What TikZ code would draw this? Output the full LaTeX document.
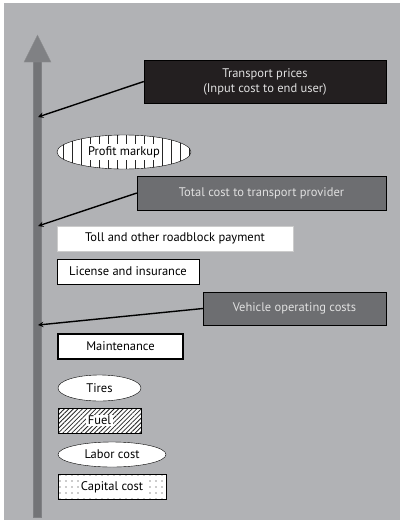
\documentclass[tikz,border=0pt]{standalone}
\usepackage{fontspec}
\setmainfont{PT Sans}
\usepackage{tikz}
\usetikzlibrary{positioning}
\usetikzlibrary{shapes.geometric}
\usetikzlibrary{patterns.meta}

\definecolor{panelgray}{HTML}{B1B2B5}
\definecolor{shaftgray}{HTML}{737477}
\definecolor{headgray}{HTML}{808184}
\definecolor{darkbox}{HTML}{6D6E71}
\definecolor{blackbox}{HTML}{231F20}

\begin{document}
\begin{tikzpicture}
		[x=1pt, y=-1pt,
		 every node/.style={font=\fontsize{12.5}{15}\selectfont},
		 costbox/.style={rectangle, draw=black, fill=white, minimum height=25pt, inner sep=0pt},
		 costoval/.style={ellipse, draw=black, fill=white, minimum height=26pt, inner sep=0pt},
		 patternbox/.style={preaction={fill=white}, pattern color=black!85},
		 levelbox/.style={rectangle, draw=black, fill=darkbox, text=white!88!black, inner sep=0pt},
		 pointer/.style={->, >=stealth, line width=1.4pt, black}]
		\useasboundingbox[fill=white] (0,0) rectangle (402,523);
		\fill[panelgray] (4,3) rectangle (400,520);

		% the rising cost axis
		\filldraw[fill=shaftgray, draw=headgray, line width=1pt] (33.5,57) rectangle (41.5,517);
		\filldraw[fill=headgray, draw=headgray!90!white] (24,62) -- (37.5,35) -- (51,62) -- cycle;
		\coordinate (prices) at (38,117);
		\coordinate (total) at (38,226);
		\coordinate (operating) at (38,325);

		\node[levelbox, fill=blackbox, minimum width=242pt, minimum height=43pt, align=center] (transport) at (265,81.5) {Transport prices\\(Input cost to end user)};
		\node[costoval, patternbox, minimum width=134pt, minimum height=34pt, pattern={Lines[angle=90, distance=9pt, line width=0.6pt]},
			label={[fill=white, inner sep=2pt]center:Profit markup}] (profit) at (124,152) {};
		\node[levelbox, minimum width=249pt, minimum height=34pt] (providers) at (261.5,193) {Total cost to transport provider};
		\node[costbox, draw=white!80!black, minimum width=236pt] (toll) at (175,238.5) {Toll and other roadblock payment};
		\node[costbox, minimum width=142pt] (license) at (128,271.5) {License and insurance};
		\node[levelbox, minimum width=183pt, minimum height=33pt] (vehicle) at (294.5,308.5) {Vehicle operating costs};
		\node[costbox, line width=1.3pt, minimum width=125pt] (maintenance) at (120.5,346.5) {Maintenance};
		\node[costoval, minimum width=83pt] (tires) at (99.5,388) {Tires};
		\node[costbox, patternbox, minimum width=83pt, pattern={Lines[angle=45, distance=3.2pt, line width=0.8pt]},
			label={[fill=white, inner sep=1.5pt]center:Fuel}] (fuel) at (99.5,420.5) {};
		\node[costoval, minimum width=108pt, minimum height=25pt] (labor) at (112,454.5) {Labor cost};
		\node[costbox, patternbox, minimum width=108pt, pattern={Dots[distance=6pt, radius=0.6pt]},
			label={[fill=white, inner sep=2pt]center:Capital cost}] (capital) at (112,487) {};

		\draw[pointer] (transport.west) to (prices);
		\draw[pointer] (providers.west) to (total);
		\draw[pointer] (vehicle.west) to (operating);
	\end{tikzpicture}
\end{document}
